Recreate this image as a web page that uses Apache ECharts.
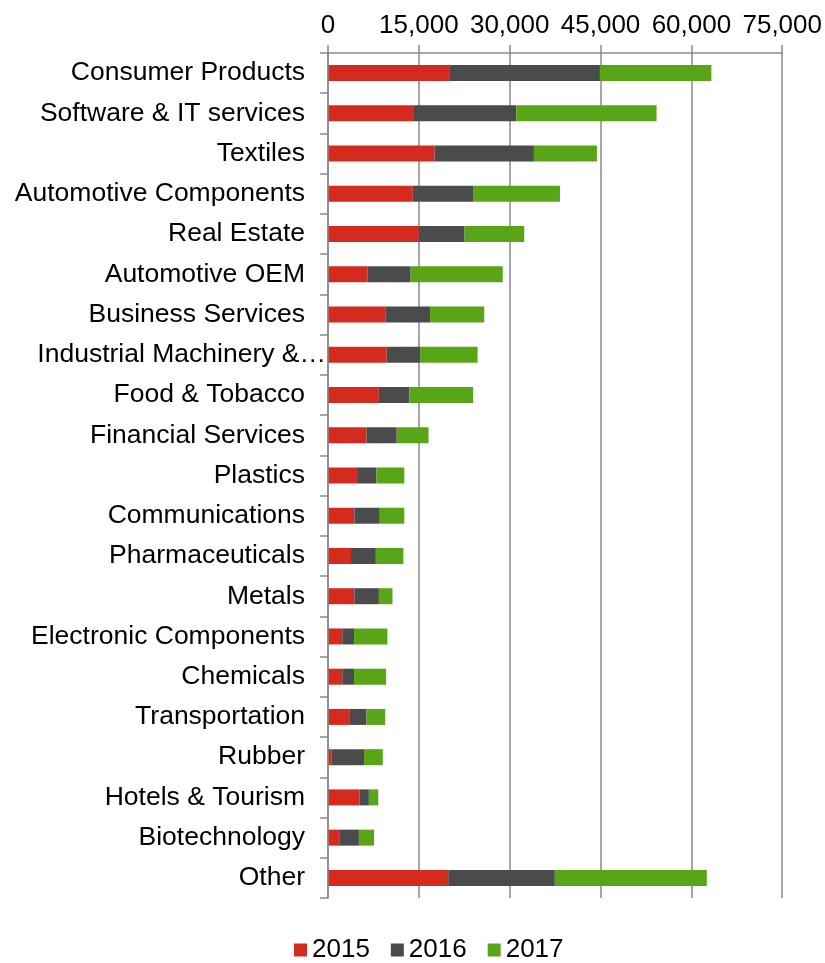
<!DOCTYPE html>
<html>
<head>
<meta charset="utf-8">
<script src="https://cdn.jsdelivr.net/npm/echarts@6/dist/echarts.min.js"></script>
<style>
  html, body { margin: 0; padding: 0; background: #fff; }
  #chart { width: 825px; height: 963px; }
</style>
</head>
<body>
<div id="chart"></div>
<script>
// Sectors, listed top to bottom
const categories = [
  'Consumer Products', 'Software & IT services', 'Textiles', 'Automotive Components',
  'Real Estate', 'Automotive OEM', 'Business Services', 'Industrial Machinery &…',
  'Food & Tobacco', 'Financial Services', 'Plastics', 'Communications',
  'Pharmaceuticals', 'Metals', 'Electronic Components', 'Chemicals',
  'Transportation', 'Rubber', 'Hotels & Tourism', 'Biotechnology', 'Other'
];

// Yearly amounts per sector
const values2015 = [20000, 14200, 17600, 14000, 15000, 6500, 9550, 9700, 8400, 6350, 4800, 4350, 3800, 4350, 2350, 2350, 3500, 550, 5200, 1850, 19850];
const values2016 = [24900, 16900, 16400, 9950, 7550, 7150, 7300, 5500, 5050, 5000, 3200, 4200, 4100, 4050, 1950, 1950, 2850, 5400, 1550, 3250, 17600];
const values2017 = [18400, 23150, 10400, 14350, 9850, 15200, 8950, 9500, 10500, 5250, 4600, 4050, 4550, 2250, 5500, 5300, 3100, 3100, 1550, 2500, 25100];

// Value axis ticks
const tickMin = 0;
const tickMax = 75000;
const tickStep = 15000;

const seriesNames = ['2015', '2016', '2017'];
const seriesColors = ['#D52B1E', '#4B4B4B', '#58A618'];
const seriesValues = [values2015, values2016, values2017];

const axisGray = '#8a8a8a';
const fontFamily = '"Liberation Sans", Arial, sans-serif';
const categoryFontSize = 26.5;

// Truncated names keep their ellipsis hanging past the label column
function categoryLabel(name) {
  if (name.endsWith('…')) {
    return '{t|' + name.slice(0, -1) + '}{e|…}';
  }
  return name;
}

const chart = echarts.init(document.getElementById('chart'), null, { renderer: 'canvas' });

chart.setOption({
  animation: false,
  backgroundColor: '#ffffff',
  textStyle: { fontFamily: fontFamily },
  grid: { left: 328, right: 39, top: 53, bottom: 65, containLabel: false },
  legend: {
    data: seriesNames,
    left: 289,
    bottom: -5,
    itemWidth: 13,
    itemHeight: 13,
    itemGap: 21,
    icon: 'rect',
    textStyle: { fontSize: 26, color: '#000', fontFamily: fontFamily }
  },
  xAxis: {
    type: 'value',
    position: 'top',
    min: tickMin,
    max: tickMax,
    interval: tickStep,
    axisLine: { show: true, lineStyle: { color: axisGray, width: 1.5 } },
    axisTick: { show: true, length: 8, lineStyle: { color: axisGray, width: 1.5 } },
    splitLine: { show: true, lineStyle: { color: axisGray, width: 1.5 } },
    axisLabel: {
      margin: 14,
      fontSize: 26,
      color: '#000',
      fontFamily: fontFamily,
      formatter: v => v.toLocaleString('en-US')
    }
  },
  yAxis: {
    type: 'category',
    data: categories,
    inverse: true,
    axisLine: { show: true, lineStyle: { color: axisGray, width: 1.5 } },
    axisTick: { show: true, length: 8, alignWithLabel: false, lineStyle: { color: axisGray, width: 1.5 } },
    splitLine: { show: false },
    z: 3,
    axisLabel: {
      margin: 23,
      fontSize: categoryFontSize,
      color: '#000',
      fontFamily: fontFamily,
      formatter: categoryLabel,
      rich: {
        t: { fontSize: categoryFontSize, color: '#000', fontFamily: fontFamily },
        e: { fontSize: categoryFontSize, color: '#000', fontFamily: fontFamily, padding: [0, -21, 0, 0] }
      }
    }
  },
  series: seriesNames.map((name, i) => ({
    name: name,
    type: 'bar',
    stack: 'total',
    barWidth: 16,
    data: seriesValues[i],
    itemStyle: { color: seriesColors[i] }
  }))
});
</script>
</body>
</html>
